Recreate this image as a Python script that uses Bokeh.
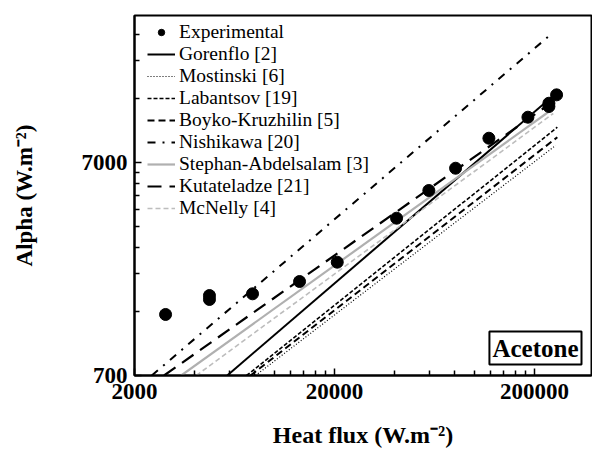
from bokeh.plotting import figure
from bokeh.models import (Legend, LegendItem, FixedTicker, Label, PrintfTickFormatter,
                          Range1d)
from bokeh.embed import file_html
from bokeh.resources import INLINE

# ---------------- data ----------------
exp_q = [2860, 4740, 4740, 7780, 13370, 20630, 40840, 59200, 80540,
         118200, 185200, 235800, 235800, 257600]
exp_alpha = [1354, 1662, 1592, 1693, 1934, 2383, 3834, 5172, 6580,
             9103, 11424, 13286, 12824, 14547]

gorenflo_q = [5815, 259800]
gorenflo_a = [700, 14970]
mostinski_q = [8054, 254700]
mostinski_a = [700, 8412]
labantsov_q = [7260, 259800]
labantsov_a = [700, 10250]
boyko_q = [7600, 259800]
boyko_a = [700, 9200]
nishikawa_q = [2440, 245200]
nishikawa_a = [700, 28320]
stephan_q = [3424, 248000]
stephan_a = [700, 12550]
kutateladze_q = [2810, 257600]
kutateladze_a = [700, 13900]
mcnelly_q = [4070, 248000]
mcnelly_a = [700, 11890]

x_major = [2000, 20000, 200000]
x_minor = [4000, 6000, 8000, 10000, 12000, 14000, 16000, 18000,
           40000, 60000, 80000, 100000, 120000, 140000, 160000, 180000]
y_major = [700, 7000]
y_minor = [1400, 2100, 2800, 3500, 4200, 4900, 5600, 6300, 14000, 21000, 28000]

SERIF = "Liberation Serif"

p = figure(width=592, height=452, x_axis_type="log", y_axis_type="log",
           x_range=Range1d(2000, 385000), y_range=Range1d(700, 34300),
           output_backend="svg", toolbar_location=None,
           min_border_left=134, min_border_right=1, min_border_top=15,
           min_border_bottom=77)
p.grid.visible = False
p.outline_line_color = "black"
p.outline_line_width = 2
p.background_fill_color = "white"
p.border_fill_color = "white"

p.xaxis.ticker = FixedTicker(ticks=x_major, minor_ticks=x_minor)
p.yaxis.ticker = FixedTicker(ticks=y_major, minor_ticks=y_minor)
p.xaxis.formatter = PrintfTickFormatter(format="%d")
p.yaxis.formatter = PrintfTickFormatter(format="%d")

for ax in (p.xaxis, p.yaxis):
    ax.axis_line_width = 2
    ax.axis_line_color = "black"
    ax.major_tick_in = 7
    ax.major_tick_out = 0
    ax.minor_tick_in = 5
    ax.minor_tick_out = 0
    ax.major_tick_line_width = 1.5
    ax.minor_tick_line_width = 1.5
    ax.major_label_text_font = SERIF
    ax.major_label_text_font_style = "bold"
    ax.major_label_text_font_size = "23px"
    ax.major_label_text_color = "black"
    ax.major_label_text_line_height = 1.0
    ax.axis_label_text_font = SERIF
    ax.axis_label_text_font_style = "bold"
    ax.axis_label_text_font_size = "24px"
    ax.axis_label_text_color = "black"
    ax.axis_label_text_line_height = 1.0

p.xaxis.axis_label = "Heat flux (W.m\u207b\u00b2)"
p.yaxis.axis_label = "Alpha (W.m\u207b\u00b2)"
p.yaxis.axis_label_text_font_size = "23px"
p.xaxis.major_label_standoff = 8
p.xaxis.axis_label_standoff = 20
p.yaxis.major_label_standoff = 7
p.yaxis.axis_label_standoff = 42

# ---------------- correlations ----------------
r_gor = p.line(gorenflo_q, gorenflo_a, line_color="black", line_width=2)
r_mos = p.line(mostinski_q, mostinski_a, line_color="black", line_width=1.2,
               line_dash="1 2")
r_lab = p.line(labantsov_q, labantsov_a, line_color="black", line_width=1.6,
               line_dash="4 2")
r_boy = p.line(boyko_q, boyko_a, line_color="black", line_width=2,
               line_dash="7 4")
r_nis = p.line(nishikawa_q, nishikawa_a, line_color="black", line_width=2,
               line_dash="8 7 2 7")
r_ste = p.line(stephan_q, stephan_a, line_color="#b0b0b0", line_width=2.2)
r_kut = p.line(kutateladze_q, kutateladze_a, line_color="black", line_width=2.2,
               line_dash="14 8")
r_mcn = p.line(mcnelly_q, mcnelly_a, line_color="#bdbdbd", line_width=1.6,
               line_dash="5 3")

r_exp = p.scatter(exp_q, exp_alpha, marker="circle", size=12,
                  fill_color="black", line_color="black")

legend = Legend(items=[
    LegendItem(label="Experimental", renderers=[r_exp]),
    LegendItem(label="Gorenflo [2]", renderers=[r_gor]),
    LegendItem(label="Mostinski [6]", renderers=[r_mos]),
    LegendItem(label="Labantsov [19]", renderers=[r_lab]),
    LegendItem(label="Boyko-Kruzhilin [5]", renderers=[r_boy]),
    LegendItem(label="Nishikawa [20]", renderers=[r_nis]),
    LegendItem(label="Stephan-Abdelsalam [3]", renderers=[r_ste]),
    LegendItem(label="Kutateladze [21]", renderers=[r_kut]),
    LegendItem(label="McNelly [4]", renderers=[r_mcn]),
], location=(13, 156))
legend.label_text_font = SERIF
legend.label_text_font_size = "19.5px"
legend.label_text_color = "black"
legend.glyph_width = 28
legend.glyph_height = 16
legend.label_height = 16
legend.spacing = 0
legend.padding = 0
legend.margin = 0
legend.label_standoff = 4
legend.border_line_color = None
legend.background_fill_alpha = 0
p.add_layout(legend)

tag = Label(x=447, y=11, x_units="screen", y_units="screen", text="Acetone",
            text_align="right", text_baseline="bottom",
            text_font=SERIF, text_font_style="bold", text_font_size="25px",
            text_color="black", border_line_color="black", border_line_width=2,
            background_fill_color="white", padding=3)
p.add_layout(tag)

open("out.html", "w").write(file_html(p, INLINE))
